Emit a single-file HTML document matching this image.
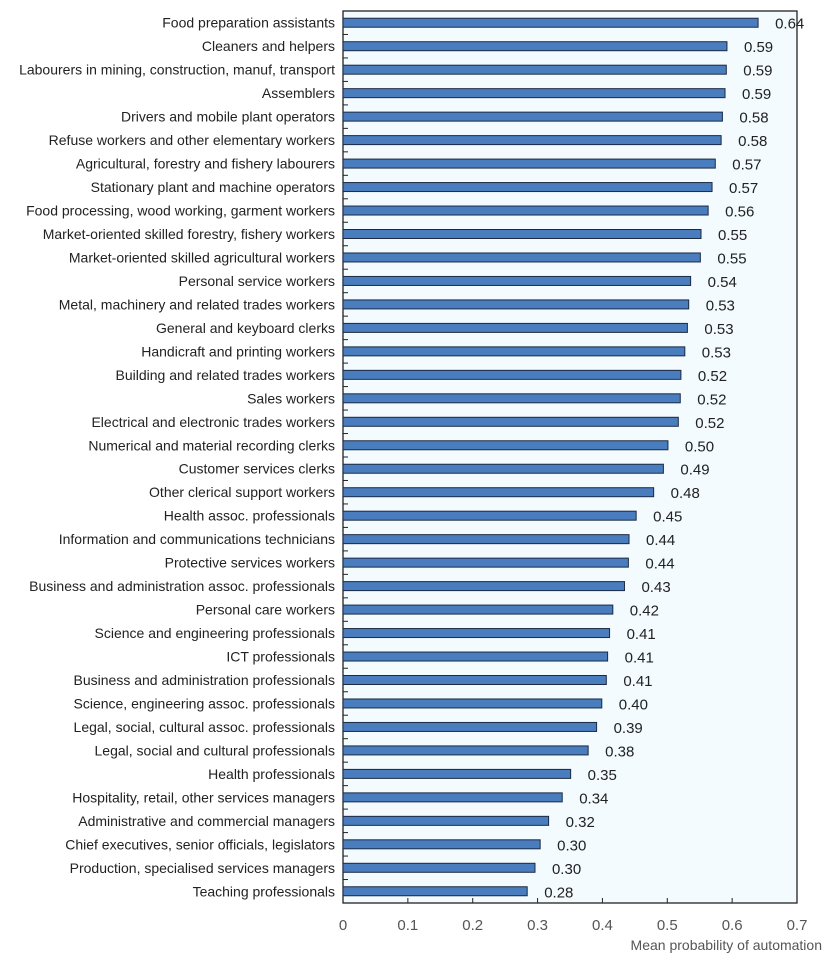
<!DOCTYPE html>
<html><head><meta charset="utf-8"><style>
html,body{margin:0;padding:0;background:#fff;}
svg{display:block;font-family:"Liberation Sans",Arial,sans-serif;}
</style></head><body>
<svg id="chart" width="840" height="962" viewBox="0 0 840 962"></svg>
<script>
const categories=["Food preparation assistants","Cleaners and helpers","Labourers in mining, construction, manuf, transport","Assemblers","Drivers and mobile plant operators","Refuse workers and other elementary workers","Agricultural, forestry and fishery labourers","Stationary plant and machine operators","Food processing, wood working, garment workers","Market-oriented skilled forestry, fishery workers","Market-oriented skilled agricultural workers","Personal service workers","Metal, machinery and related trades workers","General and keyboard clerks","Handicraft and printing workers","Building and related trades workers","Sales workers","Electrical and electronic trades workers","Numerical and material recording clerks","Customer services clerks","Other clerical support workers","Health assoc. professionals","Information and communications technicians","Protective services workers","Business and administration assoc. professionals","Personal care workers","Science and engineering professionals","ICT professionals","Business and administration professionals","Science, engineering assoc. professionals","Legal, social, cultural assoc. professionals","Legal, social and cultural professionals","Health professionals","Hospitality, retail, other services managers","Administrative and commercial managers","Chief executives, senior officials, legislators","Production, specialised services managers","Teaching professionals"];
const values=[0.64,0.592,0.591,0.589,0.585,0.583,0.574,0.569,0.563,0.552,0.551,0.536,0.533,0.531,0.527,0.521,0.520,0.517,0.501,0.494,0.479,0.452,0.441,0.440,0.434,0.416,0.411,0.408,0.406,0.399,0.391,0.378,0.351,0.338,0.317,0.304,0.296,0.284];
const valueLabels=["0.64","0.59","0.59","0.59","0.58","0.58","0.57","0.57","0.56","0.55","0.55","0.54","0.53","0.53","0.53","0.52","0.52","0.52","0.50","0.49","0.48","0.45","0.44","0.44","0.43","0.42","0.41","0.41","0.41","0.40","0.39","0.38","0.35","0.34","0.32","0.30","0.30","0.28"];
const ticks=[0,0.1,0.2,0.3,0.4,0.5,0.6,0.7];
const tickLabels=["0","0.1","0.2","0.3","0.4","0.5","0.6","0.7"];

const NS="http://www.w3.org/2000/svg";
const svg=document.getElementById('chart');
const L=343,R=797,T=11,B=903;
const xs=v=>L+(v/0.7)*(R-L);
const band=(B-T)/categories.length;
const yc=i=>T+band*(i+0.5);
function mk(tag,attrs,parent){const e=document.createElementNS(NS,tag);for(const k in attrs)e.setAttribute(k,attrs[k]);(parent||svg).appendChild(e);return e;}

const bg=mk('rect',{x:L,y:T,width:R-L,height:B-T,fill:'#f3fbfe',stroke:'#222','stroke-width':1.3});



for(let i=1;i<categories.length;i++){
  const t=mk('line',{x1:L,x2:L+5,y1:T+band*i,y2:T+band*i,stroke:'#222','stroke-width':1});
  
  
}
ticks.forEach((v,i)=>{
  const x=xs(v);
  if(i>0&&i<ticks.length-1){
    const t=mk('line',{x1:x,x2:x,y1:B,y2:B-5,stroke:'#222','stroke-width':1});
    
    
  }
  const tl=mk('text',{x:x,y:930,'text-anchor':'middle','font-size':15,fill:'#555'});
  tl.textContent=tickLabels[i];
  
  
});

categories.forEach((c,i)=>{
  const y=yc(i);
  const bar=mk('rect',{x:L,y:y-4.5,width:xs(values[i])-L,height:9,fill:'#4a7dbd',stroke:'#1a2a44','stroke-width':1});
  
  
  const lab=mk('text',{x:335,y:y+5,'text-anchor':'end','font-size':14,fill:'#222'});
  lab.textContent=c;
  
  
  const vl=mk('text',{x:xs(values[i])+17,y:y+6,'font-size':15,fill:'#222'});
  vl.textContent=valueLabels[i];
  
  
});

const at=mk('text',{x:822,y:950,'text-anchor':'end','font-size':14,fill:'#555'});
at.textContent="Mean probability of automation";


</script>
</body></html>
